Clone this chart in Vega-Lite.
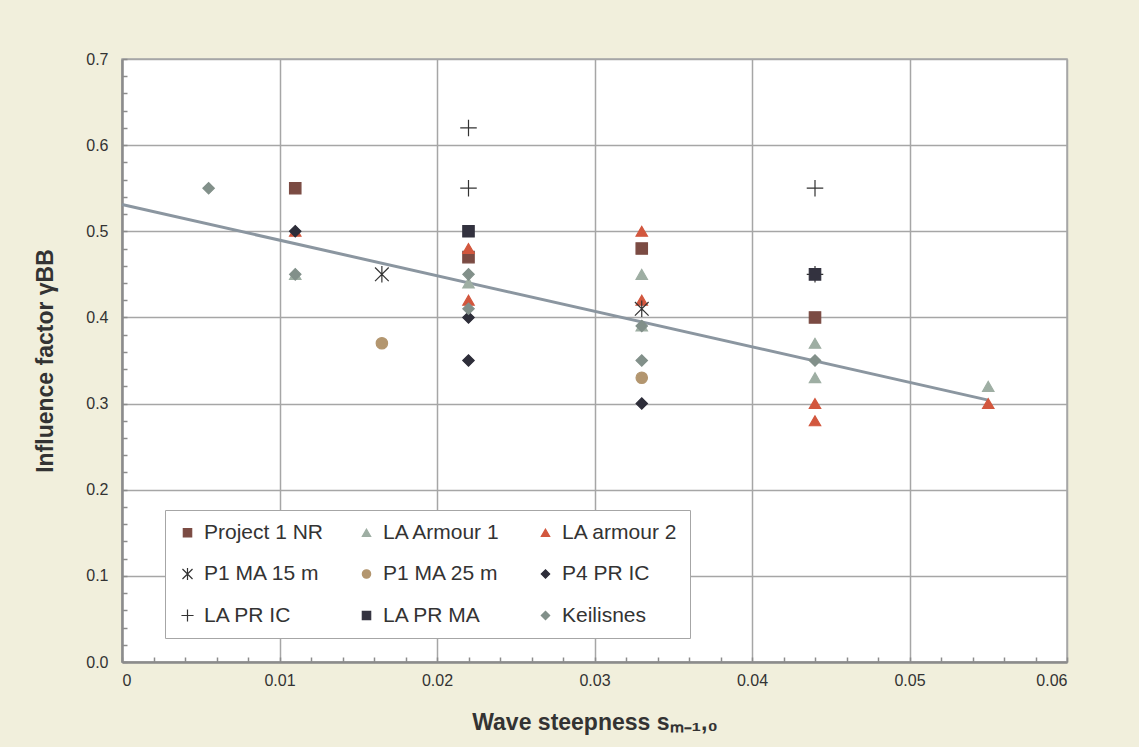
{
  "$schema": "https://vega.github.io/schema/vega-lite/v6.json",
  "width": 945,
  "height": 603,
  "autosize": {"type": "none"},
  "padding": {"left": 122, "top": 59, "right": 72, "bottom": 85},
  "background": "#f1efdc",
  "config": {
    "font": "Liberation Sans",
    "view": {"fill": "white", "stroke": "#a6a6a6", "strokeWidth": 1.5}
  },
  "datasets": {
    "points": [
      {"series": "Project 1 NR", "s": 0.011, "g": 0.55},
      {"series": "Project 1 NR", "s": 0.022, "g": 0.47},
      {"series": "Project 1 NR", "s": 0.033, "g": 0.48},
      {"series": "Project 1 NR", "s": 0.044, "g": 0.40},
      {"series": "LA Armour 1", "s": 0.011, "g": 0.45},
      {"series": "LA Armour 1", "s": 0.022, "g": 0.44},
      {"series": "LA Armour 1", "s": 0.033, "g": 0.45},
      {"series": "LA Armour 1", "s": 0.033, "g": 0.39},
      {"series": "LA Armour 1", "s": 0.044, "g": 0.37},
      {"series": "LA Armour 1", "s": 0.044, "g": 0.33},
      {"series": "LA Armour 1", "s": 0.055, "g": 0.32},
      {"series": "LA armour 2", "s": 0.011, "g": 0.50},
      {"series": "LA armour 2", "s": 0.022, "g": 0.48},
      {"series": "LA armour 2", "s": 0.022, "g": 0.42},
      {"series": "LA armour 2", "s": 0.033, "g": 0.50},
      {"series": "LA armour 2", "s": 0.033, "g": 0.42},
      {"series": "LA armour 2", "s": 0.044, "g": 0.30},
      {"series": "LA armour 2", "s": 0.044, "g": 0.28},
      {"series": "LA armour 2", "s": 0.055, "g": 0.30},
      {"series": "P1 MA 15 m", "s": 0.0165, "g": 0.45},
      {"series": "P1 MA 15 m", "s": 0.033, "g": 0.41},
      {"series": "P1 MA 25 m", "s": 0.0165, "g": 0.37},
      {"series": "P1 MA 25 m", "s": 0.033, "g": 0.33},
      {"series": "P4 PR IC", "s": 0.011, "g": 0.50},
      {"series": "P4 PR IC", "s": 0.022, "g": 0.40},
      {"series": "P4 PR IC", "s": 0.022, "g": 0.35},
      {"series": "P4 PR IC", "s": 0.033, "g": 0.30},
      {"series": "LA PR IC", "s": 0.022, "g": 0.62},
      {"series": "LA PR IC", "s": 0.022, "g": 0.55},
      {"series": "LA PR IC", "s": 0.044, "g": 0.55},
      {"series": "LA PR IC", "s": 0.044, "g": 0.45},
      {"series": "LA PR MA", "s": 0.022, "g": 0.50},
      {"series": "LA PR MA", "s": 0.044, "g": 0.45},
      {"series": "Keilisnes", "s": 0.0055, "g": 0.55},
      {"series": "Keilisnes", "s": 0.011, "g": 0.45},
      {"series": "Keilisnes", "s": 0.022, "g": 0.45},
      {"series": "Keilisnes", "s": 0.022, "g": 0.41},
      {"series": "Keilisnes", "s": 0.033, "g": 0.39},
      {"series": "Keilisnes", "s": 0.033, "g": 0.35},
      {"series": "Keilisnes", "s": 0.044, "g": 0.35}
    ],
    "trend": [
      {"s": 0, "g": 0.531},
      {"s": 0.055, "g": 0.304}
    ]
  },
  "layer": [
    {
      "data": {"name": "trend"},
      "mark": {"type": "line", "color": "#8b96a0", "strokeWidth": 3},
      "encoding": {
        "x": {
          "field": "s", "type": "quantitative",
          "scale": {"domain": [0, 0.06], "nice": false, "zero": false},
          "axis": {
            "orient": "bottom",
            "values": [0, 0.01, 0.02, 0.03, 0.04, 0.05, 0.06],
            "format": "~g",
            "grid": true, "gridColor": "#a6a6a6", "gridWidth": 1.5,
            "ticks": false,
            "domainColor": "#8c8c8c", "domainWidth": 2.5,
            "labelFontSize": 16, "labelColor": "#333333", "labelPadding": 10,
            "title": "Wave steepness sₘ₋₁,₀",
            "titleFontSize": 23, "titleFontWeight": "bold", "titleColor": "#333333", "titlePadding": 23
          }
        },
        "y": {
          "field": "g", "type": "quantitative",
          "scale": {"domain": [0, 0.7], "nice": false, "zero": false},
          "axis": {
            "orient": "left",
            "values": [0, 0.1, 0.2, 0.3, 0.4, 0.5, 0.6, 0.7],
            "format": ".1f",
            "grid": true, "gridColor": "#a6a6a6", "gridWidth": 1.5,
            "ticks": false,
            "domainColor": "#8c8c8c", "domainWidth": 2.5,
            "labelFontSize": 16, "labelColor": "#333333", "labelPadding": 14,
            "title": "Influence factor γBB",
            "titleFontSize": 23, "titleFontWeight": "bold", "titleColor": "#333333", "titlePadding": 28
          }
        }
      }
    },
    {
      "data": {"name": "points"},
      "mark": {"type": "point", "filled": true, "size": 130, "strokeWidth": 1.2, "opacity": 1},
      "encoding": {
        "x": {
          "field": "s", "type": "quantitative",
          "scale": {"domain": [0, 0.06], "nice": false, "zero": false},
          "axis": {
            "orient": "bottom",
            "values": [0, 0.002, 0.004, 0.006, 0.008, 0.01, 0.012, 0.014, 0.016, 0.018, 0.02, 0.022, 0.024, 0.026, 0.028, 0.03, 0.032, 0.034, 0.036, 0.038, 0.04, 0.042, 0.044, 0.046, 0.048, 0.05, 0.052, 0.054, 0.056, 0.058, 0.06],
            "labels": false, "grid": false, "domain": false,
            "ticks": true, "tickSize": -5, "tickColor": "#8c8c8c", "tickWidth": 1.5,
            "title": null
          }
        },
        "y": {
          "field": "g", "type": "quantitative",
          "scale": {"domain": [0, 0.7], "nice": false, "zero": false},
          "axis": {
            "orient": "left",
            "values": [0, 0.02, 0.04, 0.06, 0.08, 0.1, 0.12, 0.14, 0.16, 0.18, 0.2, 0.22, 0.24, 0.26, 0.28, 0.3, 0.32, 0.34, 0.36, 0.38, 0.4, 0.42, 0.44, 0.46, 0.48, 0.5, 0.52, 0.54, 0.56, 0.58, 0.6, 0.62, 0.64, 0.66, 0.68, 0.7],
            "labels": false, "grid": false, "domain": false,
            "ticks": true, "tickSize": -5, "tickColor": "#8c8c8c", "tickWidth": 1.5,
            "title": null
          }
        },
        "fill": {
          "field": "series", "type": "nominal", "title": null,
          "scale": {
            "domain": ["Project 1 NR", "LA Armour 1", "LA armour 2", "P1 MA 15 m", "P1 MA 25 m", "P4 PR IC", "LA PR IC", "LA PR MA", "Keilisnes"],
            "range": ["#7b4b43", "#9eaea3", "#d2573e", "#333333", "#b3966f", "#2e2e3a", "#333333", "#33323f", "#82908a"]
          },
          "legend": {
            "orient": "none", "legendX": 43, "legendY": 451, "direction": "horizontal",
            "columns": 3, "gridAlign": "all", "columnPadding": 32, "rowPadding": 19.5,
            "padding": 12, "fillColor": "white", "strokeColor": "#a6a6a6",
            "labelFontSize": 21, "labelColor": "#333333", "labelLimit": 300, "labelOffset": 6,
            "symbolSize": 70, "symbolStrokeWidth": 1.2
          }
        },
        "stroke": {
          "field": "series", "type": "nominal", "title": null,
          "scale": {
            "domain": ["Project 1 NR", "LA Armour 1", "LA armour 2", "P1 MA 15 m", "P1 MA 25 m", "P4 PR IC", "LA PR IC", "LA PR MA", "Keilisnes"],
            "range": ["#7b4b43", "#9eaea3", "#d2573e", "#333333", "#b3966f", "#2e2e3a", "#333333", "#33323f", "#82908a"]
          }
        },
        "shape": {
          "field": "series", "type": "nominal", "title": null,
          "scale": {
            "domain": ["Project 1 NR", "LA Armour 1", "LA armour 2", "P1 MA 15 m", "P1 MA 25 m", "P4 PR IC", "LA PR IC", "LA PR MA", "Keilisnes"],
            "range": ["square", "triangle-up", "triangle-up", "M-1.2,-1.2L1.2,1.2M-1.2,1.2L1.2,-1.2M0,-1.45L0,1.45", "circle", "diamond", "M-1.45,0L1.45,0M0,-1.45L0,1.45", "square", "diamond"]
          }
        }
      }
    }
  ],
  "resolve": {"axis": {"x": "independent", "y": "independent"}}
}
